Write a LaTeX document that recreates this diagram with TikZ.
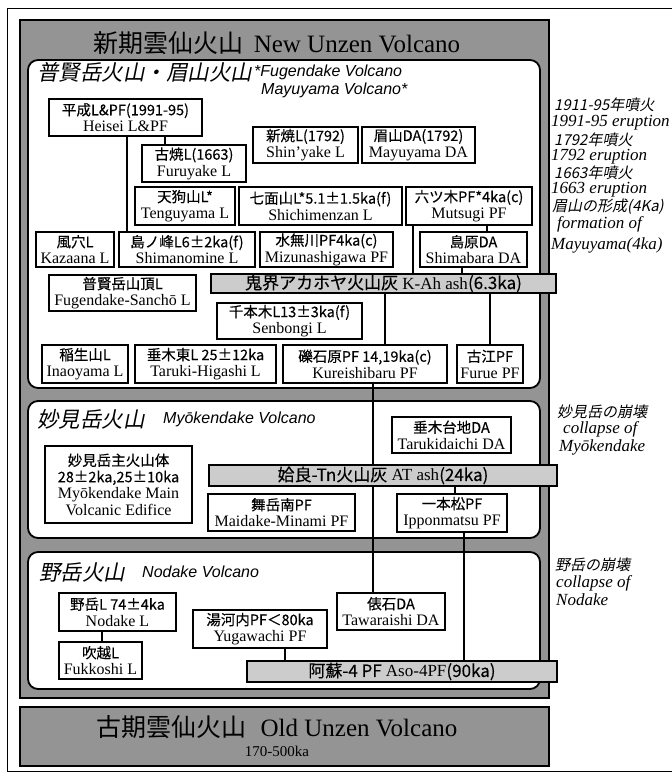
\documentclass[tikz,border=0pt]{standalone}
\usepackage{fontspec}
\setmainfont{Liberation Serif}
\newfontfamily\jpf{Noto Sans CJK JP}
\newfontfamily\jpb[FakeBold=0.25]{Noto Sans CJK JP}
\newfontfamily\jpif[FakeSlant=0.2]{Noto Sans CJK JP}
\newfontfamily\hvf{Liberation Sans}
\newcommand\J[1]{{\jpb\fontsize{14.5}{16.5}\selectfont #1}}
\newcommand\zl[1]{\makebox[0pt]{#1}}
\newcommand\bl[2]{\zl{\J{#1}}\\\zl{#2}}
\pgfdeclarelayer{bg}
\pgfdeclarelayer{mid}
\pgfsetlayers{bg,mid,main}
\tikzset{
  box/.style={draw, line width=1.6pt, fill=white, inner sep=0pt, align=center,
    font=\fontsize{16}{16.5}\selectfont},
  bar/.style={draw, line width=1.6pt, fill=gray!40, inner sep=0pt,
    font=\fontsize{17}{17}\selectfont},
  link/.style={line width=1.8pt},
  group/.style={draw, line width=1.8pt, fill=white, rounded corners=10pt},
  era/.style={draw, line width=1.5pt, fill=black!42},
  lbl/.style={inner sep=0pt, anchor=west},
  jtitle/.style={lbl, font=\jpif\fontsize{21.5}{21.5}\selectfont},
  etitle/.style={lbl, font=\hvf\itshape\fontsize{16}{18}\selectfont},
  janno/.style={lbl, font=\jpif\fontsize{15}{15}\selectfont},
  eanno/.style={lbl, font=\itshape\fontsize{17}{17}\selectfont},
}
\begin{document}
\begin{tikzpicture}[x=1pt,y=-1pt]
\useasboundingbox (0,0) rectangle (672,774);

\begin{pgfonlayer}{bg}
  \draw[line width=0.8pt] (7,8) rectangle (690,771);
  \draw[era] (20,20) rectangle (549,698);
  \draw[group] (28,60) rectangle (540,388);
  \draw[group] (28,401) rectangle (540,538);
  \draw[group] (28,552) rectangle (540,689);
  \draw[era] (20,707) rectangle (549,766);
\end{pgfonlayer}

% titles
\node[inner sep=0pt, font=\fontsize{25}{25}\selectfont] (newt) at (277,43)
  {{\jpf 新期雲仙火山}\hspace{10pt}New Unzen Volcano};
\node[jtitle] (fugt) at (37,72) {普賢岳火山・眉山火山};
\node[etitle] (fuge1) at (254,72) {*Fugendake Volcano};
\node[etitle] (fuge2) at (261,90) {Mayuyama Volcano*};
\node[jtitle] (myot) at (37,419) {妙見岳火山};
\node[etitle] (myoe) at (163,419) {Myōkendake Volcano};
\node[jtitle] (nodt) at (39,572) {野岳火山};
\node[etitle] (node) at (142,572) {Nodake Volcano};
\node[inner sep=0pt, font=\fontsize{25}{25}\selectfont] (oldt) at (277,727)
  {{\jpf 古期雲仙火山}\hspace{14pt}Old Unzen Volcano};
\node[inner sep=0pt, font=\fontsize{15}{15}\selectfont] (olda) at (277,751) {170-500ka};

% Fugendake / Mayuyama boxes
\node[box, minimum width=153, minimum height=37] (heisei) at (125.5,117.5) {\bl{平成L\&PF(1991-95)}{Heisei L\&PF}};
\node[box, minimum width=104, minimum height=37] (furuyake) at (194,163.5) {\bl{古焼L(1663)}{Furuyake L}};
\node[box, minimum width=105, minimum height=36] (shinyake) at (305.5,145) {\bl{新焼L(1792)}{Shin’yake L}};
\node[box, minimum width=113, minimum height=36] (mayuyama) at (418.5,145) {\bl{眉山DA(1792)}{Mayuyama DA}};
\node[box, minimum width=100, minimum height=38] (tenguyama) at (185,206) {\bl{天狗山L*}{Tenguyama L}};
\node[box, minimum width=163, minimum height=38] (shichimen) at (320.5,206) {\bl{七面山L*5.1±1.5ka(f)}{Shichimenzan L}};
\node[box, minimum width=126, minimum height=38] (mutsugi) at (469,206) {\bl{六ツ木PF*4ka(c)}{Mutsugi PF}};
\node[box, minimum width=78, minimum height=35] (kazaana) at (75,249.5) {\bl{風穴L}{Kazaana L}};
\node[box, minimum width=136, minimum height=35] (shimanomine) at (187,249.5) {\bl{島ノ峰L6±2ka(f)}{Shimanomine L}};
\node[box, minimum width=133, minimum height=35] (mizunashi) at (326.5,249.5) {\bl{水無川PF4ka(c)}{Mizunashigawa PF}};
\node[box, minimum width=107, minimum height=35] (shimabara) at (473.5,249.5) {\bl{島原DA}{Shimabara DA}};
\node[box, minimum width=147, minimum height=36] (sancho) at (122.5,293) {\bl{普賢岳山頂L}{Fugendake-Sanchō L}};
\node[bar, minimum width=345, minimum height=19] (kah) at (383.5,283.5) {{\jpb 鬼界アカホヤ火山灰} K-Ah ash{\jpb (6.3ka)}};
\node[box, minimum width=145, minimum height=36] (senbongi) at (289.5,321) {\bl{千本木L13±3ka(f)}{Senbongi L}};
\node[box, minimum width=86, minimum height=38] (inaoyama) at (85,364) {\bl{稲生山L}{Inaoyama L}};
\node[box, minimum width=141, minimum height=38] (tarukih) at (205.5,364) {\bl{垂木東L 25±12ka}{Taruki-Higashi L}};
\node[box, minimum width=164, minimum height=38] (kureishi) at (365,364) {\bl{礫石原PF 14,19ka(c)}{Kureishibaru PF}};
\node[box, minimum width=66, minimum height=38] (furue) at (490,364) {\bl{古江PF}{Furue PF}};

% Myokendake boxes
\node[box, minimum width=147, minimum height=77] (myomain) at (118.5,484.5)
  {\zl{\J{妙見岳主火山体}}\\\zl{\J{28±2ka,25±10ka}}\\\zl{Myōkendake Main}\\\zl{Volcanic Edifice}};
\node[box, minimum width=119, minimum height=36] (tarukid) at (451.5,435) {\bl{垂木台地DA}{Tarukidaichi DA}};
\node[bar, minimum width=348, minimum height=21] (at) at (383,475.5) {{\jpb 姶良-Tn火山灰} AT ash{\jpb (24ka)}};
\node[box, minimum width=147, minimum height=37] (maidake) at (281.5,512.5) {\bl{舞岳南PF}{Maidake-Minami PF}};
\node[box, minimum width=110, minimum height=38] (ippon) at (452,513) {\bl{一本松PF}{Ipponmatsu PF}};

% Nodake boxes
\node[box, minimum width=117, minimum height=38] (nodakel) at (117.5,612) {\bl{野岳L 74±4ka}{Nodake L}};
\node[box, minimum width=83, minimum height=37] (fukkoshi) at (100.5,660.5) {\bl{吹越L}{Fukkoshi L}};
\node[box, minimum width=134, minimum height=38] (yugawachi) at (260,629) {\bl{湯河内PF＜80ka}{Yugawachi PF}};
\node[box, minimum width=108, minimum height=37] (tawara) at (391,611.5) {\bl{俵石DA}{Tawaraishi DA}};
\node[bar, minimum width=310, minimum height=21] (aso) at (402,671.5) {{\jpb 阿蘇-4 PF} Aso-4PF{\jpb (90ka)}};

% connector x positions
\coordinate (xa) at (127,0);
\coordinate (xb) at (165,0);
\coordinate (xc) at (487,0);
\coordinate (xd) at (413,0);
\coordinate (xe) at (462,0);
\coordinate (xf) at (385,0);
\coordinate (xg) at (490,0);
\coordinate (xh) at (373,0);
\coordinate (xi) at (455,0);
\coordinate (xj) at (464,0);
\coordinate (xk) at (102,0);
\coordinate (xl) at (285,0);

\begin{pgfonlayer}{mid}
  \draw[link] (heisei.south -| xa) -- (shimanomine.north -| xa);
  \draw[link] (heisei.south -| xb) -- (furuyake.north -| xb);
  \draw[link] (mutsugi.south -| xc) -- (shimabara.north -| xc);
  \draw[link] (mutsugi.south -| xd) -- (kah.north -| xd);
  \draw[link] (shimabara.south -| xe) -- (kah.north -| xe);
  \draw[link] (kah.south -| xf) -- (kureishi.north -| xf);
  \draw[link] (kah.south -| xg) -- (furue.north -| xg);
  \draw[link] (kureishi.south -| xh) -- (tawara.north -| xh);
  \draw[link] (at.south -| xi) -- (ippon.north -| xi);
  \draw[link] (ippon.south -| xj) -- (aso.north -| xj);
  \draw[link] (nodakel.south -| xk) -- (fukkoshi.north -| xk);
  \draw[link] (yugawachi.south -| xl) -- (aso.north -| xl);
\end{pgfonlayer}

% annotations
\node[janno] (n1) at (554,105) {1911-95年噴火};
\node[eanno] (n2) at (551,123) {1991-95 eruption};
\node[janno] (n3) at (554,140) {1792年噴火};
\node[eanno] (n4) at (551,157) {1792 eruption};
\node[janno] (n5) at (554,173) {1663年噴火};
\node[eanno] (n6) at (551,190) {1663 eruption};
\node[janno] (n7) at (552,207) {眉山の形成(4Ka)};
\node[eanno] (n8) at (557,224) {formation of};
\node[eanno] (n9) at (551,245) {Mayuyama(4ka)};
\node[janno] (m1) at (557,412) {妙見岳の崩壊};
\node[eanno] (m2) at (563,429) {collapse of};
\node[eanno] (m3) at (559,447) {Myōkendake};
\node[janno] (d1) at (555,565) {野岳の崩壊};
\node[eanno] (d2) at (556,583) {collapse of};
\node[eanno] (d3) at (556,600) {Nodake};
\end{tikzpicture}
\end{document}
